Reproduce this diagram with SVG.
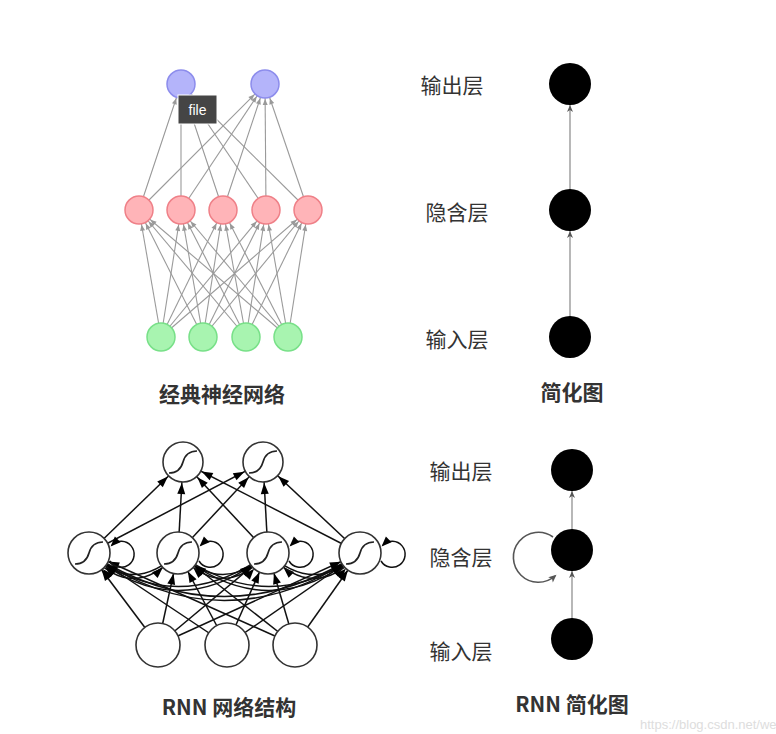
<svg xmlns="http://www.w3.org/2000/svg" width="776" height="734" viewBox="0 0 776 734">
<style>
.lbl{font-family:"Noto Sans CJK SC","Noto Sans",sans-serif;font-size:21px;fill:#333;text-anchor:middle;dominant-baseline:central}
.ttl{font-family:"Noto Sans CJK SC","Noto Sans",sans-serif;font-size:21px;font-weight:bold;fill:#333;text-anchor:middle;dominant-baseline:central}
.ne{stroke:#9a9a9a;stroke-width:1.1;fill:none;marker-end:url(#ga)}
.re{stroke:#111;stroke-width:1.5;fill:none;marker-end:url(#ba)}
.rl{stroke:#111;stroke-width:1.5;fill:none;marker-end:url(#bl)}
.se{stroke:#888;stroke-width:1.2;fill:none;marker-end:url(#sa)}
.blue{fill:#b4b4fa;stroke:#8c8cec;stroke-width:1.5}
.red{fill:#ffb4b8;stroke:#ef8088;stroke-width:1.5}
.green{fill:#a8f4b0;stroke:#78e088;stroke-width:1.5}
.rn{fill:#fff;stroke:#333;stroke-width:1.6}
.sig{fill:none;stroke:#222;stroke-width:1.7}
.blk{fill:#000}
</style>
<defs>
<marker id="ga" markerUnits="userSpaceOnUse" markerWidth="6" markerHeight="5" refX="21" refY="2.5" orient="auto" overflow="visible"><path d="M0,0 L6,2.5 L0,5 z" fill="#999"/></marker>
<marker id="ba" markerUnits="userSpaceOnUse" markerWidth="11" markerHeight="8" refX="32" refY="4" orient="auto" overflow="visible"><path d="M0,0 L11,4 L0,8 z" fill="#000"/></marker>
<marker id="bl" markerUnits="userSpaceOnUse" markerWidth="10" markerHeight="8" refX="8" refY="4" orient="auto" overflow="visible"><path d="M0,0 L10,4 L0,8 z" fill="#000"/></marker>
<marker id="sa" markerUnits="userSpaceOnUse" markerWidth="7" markerHeight="6" refX="28" refY="3" orient="auto" overflow="visible"><path d="M0,0 L7,3 L0,6 L2,3 z" fill="#555"/></marker>
<marker id="sl" markerUnits="userSpaceOnUse" markerWidth="8" markerHeight="7" refX="6" refY="3.5" orient="auto" overflow="visible"><path d="M0,0 L8,3.5 L0,7 L2,3.5 z" fill="#555"/></marker>
<path id="sg" d="M-14,11 Q-3,11 0,0 T14,-11"/>
</defs>
<rect width="776" height="734" fill="#fff"/>

<g id="connectors">
<!-- classic: input -> hidden -->
<line class="ne" x1="161" y1="337" x2="139" y2="210"/><line class="ne" x1="161" y1="337" x2="181" y2="210"/><line class="ne" x1="161" y1="337" x2="223" y2="210"/><line class="ne" x1="161" y1="337" x2="266" y2="210"/><line class="ne" x1="161" y1="337" x2="308" y2="210"/>
<line class="ne" x1="203" y1="337" x2="139" y2="210"/><line class="ne" x1="203" y1="337" x2="181" y2="210"/><line class="ne" x1="203" y1="337" x2="223" y2="210"/><line class="ne" x1="203" y1="337" x2="266" y2="210"/><line class="ne" x1="203" y1="337" x2="308" y2="210"/>
<line class="ne" x1="246" y1="337" x2="139" y2="210"/><line class="ne" x1="246" y1="337" x2="181" y2="210"/><line class="ne" x1="246" y1="337" x2="223" y2="210"/><line class="ne" x1="246" y1="337" x2="266" y2="210"/><line class="ne" x1="246" y1="337" x2="308" y2="210"/>
<line class="ne" x1="288" y1="337" x2="139" y2="210"/><line class="ne" x1="288" y1="337" x2="181" y2="210"/><line class="ne" x1="288" y1="337" x2="223" y2="210"/><line class="ne" x1="288" y1="337" x2="266" y2="210"/><line class="ne" x1="288" y1="337" x2="308" y2="210"/>
<!-- classic: hidden -> output -->
<line class="ne" x1="139" y1="210" x2="181" y2="84"/><line class="ne" x1="181" y1="210" x2="181" y2="84"/><line class="ne" x1="223" y1="210" x2="181" y2="84"/><line class="ne" x1="266" y1="210" x2="181" y2="84"/><line class="ne" x1="308" y1="210" x2="181" y2="84"/>
<line class="ne" x1="139" y1="210" x2="265" y2="84"/><line class="ne" x1="181" y1="210" x2="265" y2="84"/><line class="ne" x1="223" y1="210" x2="265" y2="84"/><line class="ne" x1="266" y1="210" x2="265" y2="84"/><line class="ne" x1="308" y1="210" x2="265" y2="84"/>
<!-- simplified -->
<line class="se" x1="570" y1="337" x2="570" y2="210"/>
<line class="se" x1="570" y1="210" x2="570" y2="84"/>
<line class="se" x1="572" y1="639" x2="572" y2="550"/>
<line class="se" x1="572" y1="550" x2="572" y2="470"/>
<path d="M553,537 A25,25 0 1 0 555,576" fill="none" stroke="#555" stroke-width="1.6" marker-end="url(#sl)"/>
<!-- RNN: hidden -> output -->
<line class="re" x1="89" y1="553" x2="183" y2="462"/><line class="re" x1="178" y1="553" x2="183" y2="462"/><line class="re" x1="268" y1="553" x2="183" y2="462"/><line class="re" x1="360" y1="553" x2="183" y2="462"/>
<line class="re" x1="89" y1="553" x2="263" y2="462"/><line class="re" x1="178" y1="553" x2="263" y2="462"/><line class="re" x1="268" y1="553" x2="263" y2="462"/><line class="re" x1="360" y1="553" x2="263" y2="462"/>
<!-- RNN: hidden <-> hidden curves -->
<path class="re" d="M178,553Q133,604 89,553"/><path class="re" d="M268,553Q178,628 89,553"/><path class="re" d="M360,553Q224,648 89,553"/>
<path class="re" d="M89,553Q133,596 178,553"/><path class="re" d="M268,553Q223,596 178,553"/><path class="re" d="M360,553Q269,620 178,553"/>
<path class="re" d="M89,553Q178,620 268,553"/><path class="re" d="M178,553Q223,604 268,553"/><path class="re" d="M360,553Q314,596 268,553"/>
<path class="re" d="M89,553Q224,640 360,553"/><path class="re" d="M178,553Q269,628 360,553"/><path class="re" d="M268,553Q314,604 360,553"/>
<!-- RNN: input -> hidden -->
<line class="re" x1="158" y1="645" x2="89" y2="553"/><line class="re" x1="158" y1="645" x2="178" y2="553"/><line class="re" x1="158" y1="645" x2="268" y2="553"/><line class="re" x1="158" y1="645" x2="360" y2="553"/>
<line class="re" x1="227" y1="645" x2="89" y2="553"/><line class="re" x1="227" y1="645" x2="178" y2="553"/><line class="re" x1="227" y1="645" x2="268" y2="553"/><line class="re" x1="227" y1="645" x2="360" y2="553"/>
<line class="re" x1="295" y1="645" x2="89" y2="553"/><line class="re" x1="295" y1="645" x2="178" y2="553"/><line class="re" x1="295" y1="645" x2="268" y2="553"/><line class="re" x1="295" y1="645" x2="360" y2="553"/>
<!-- RNN self loops -->
<path class="rl" d="M110,561 A13,13 0 1 0 112,545"/>
<path class="rl" d="M199,561 A13,13 0 1 0 201,545"/>
<path class="rl" d="M289,561 A13,13 0 1 0 291,545"/>
<path class="rl" d="M381,561 A13,13 0 1 0 383,545"/>
</g>

<g id="out1"><circle class="blue" cx="181" cy="84" r="14"/></g>
<g id="out2"><circle class="blue" cx="265" cy="84" r="14"/></g>
<g id="hid1"><circle class="red" cx="139" cy="210" r="14"/></g>
<g id="hid2"><circle class="red" cx="181" cy="210" r="14"/></g>
<g id="hid3"><circle class="red" cx="223" cy="210" r="14"/></g>
<g id="hid4"><circle class="red" cx="266" cy="210" r="14"/></g>
<g id="hid5"><circle class="red" cx="308" cy="210" r="14"/></g>
<g id="in1"><circle class="green" cx="161" cy="337" r="14"/></g>
<g id="in2"><circle class="green" cx="203" cy="337" r="14"/></g>
<g id="in3"><circle class="green" cx="246" cy="337" r="14"/></g>
<g id="in4"><circle class="green" cx="288" cy="337" r="14"/></g>
<g id="tooltip"><rect x="178" y="95" width="39" height="29" fill="#454545" stroke="#fff" stroke-width="1"/><text x="197.5" y="109.5" font-family="Liberation Sans,sans-serif" font-size="14" fill="#fff" text-anchor="middle" dominant-baseline="central">file</text></g>
<g id="title1"><text class="ttl" x="222" y="393">经典神经网络</text></g>

<g id="s-out"><circle class="blk" cx="570" cy="84" r="21"/><text class="lbl" x="452" y="84">输出层</text></g>
<g id="s-hid"><circle class="blk" cx="570" cy="210" r="21"/><text class="lbl" x="457" y="211">隐含层</text></g>
<g id="s-in"><circle class="blk" cx="570" cy="337" r="21"/><text class="lbl" x="457" y="338">输入层</text></g>
<g id="title2"><text class="ttl" x="572" y="391">简化图</text></g>

<g id="r-out1"><circle class="rn" cx="183" cy="462" r="20"/><use href="#sg" class="sig" x="183" y="462"/></g>
<g id="r-out2"><circle class="rn" cx="263" cy="462" r="20"/><use href="#sg" class="sig" x="263" y="462"/></g>
<g id="r-hid1"><circle class="rn" cx="89" cy="553" r="21"/><use href="#sg" class="sig" x="89" y="553"/></g>
<g id="r-hid2"><circle class="rn" cx="178" cy="553" r="21"/><use href="#sg" class="sig" x="178" y="553"/></g>
<g id="r-hid3"><circle class="rn" cx="268" cy="553" r="21"/><use href="#sg" class="sig" x="268" y="553"/></g>
<g id="r-hid4"><circle class="rn" cx="360" cy="553" r="21"/><use href="#sg" class="sig" x="360" y="553"/></g>
<g id="r-in1"><circle class="rn" cx="158" cy="645" r="22"/></g>
<g id="r-in2"><circle class="rn" cx="227" cy="645" r="22"/></g>
<g id="r-in3"><circle class="rn" cx="295" cy="645" r="22"/></g>
<g id="title3"><text class="ttl" x="229" y="706">RNN 网络结构</text></g>

<g id="rs-out"><circle class="blk" cx="572" cy="470" r="21"/><text class="lbl" x="461" y="470">输出层</text></g>
<g id="rs-hid"><circle class="blk" cx="572" cy="550" r="21"/><text class="lbl" x="461" y="556">隐含层</text></g>
<g id="rs-in"><circle class="blk" cx="572" cy="639" r="21"/><text class="lbl" x="461" y="650">输入层</text></g>
<g id="title4"><text class="ttl" x="572" y="703">RNN 简化图</text></g>

<text x="640" y="729" font-family="Liberation Sans,sans-serif" font-size="13" fill="#ddd">https://blog.csdn.net/we</text>
</svg>
